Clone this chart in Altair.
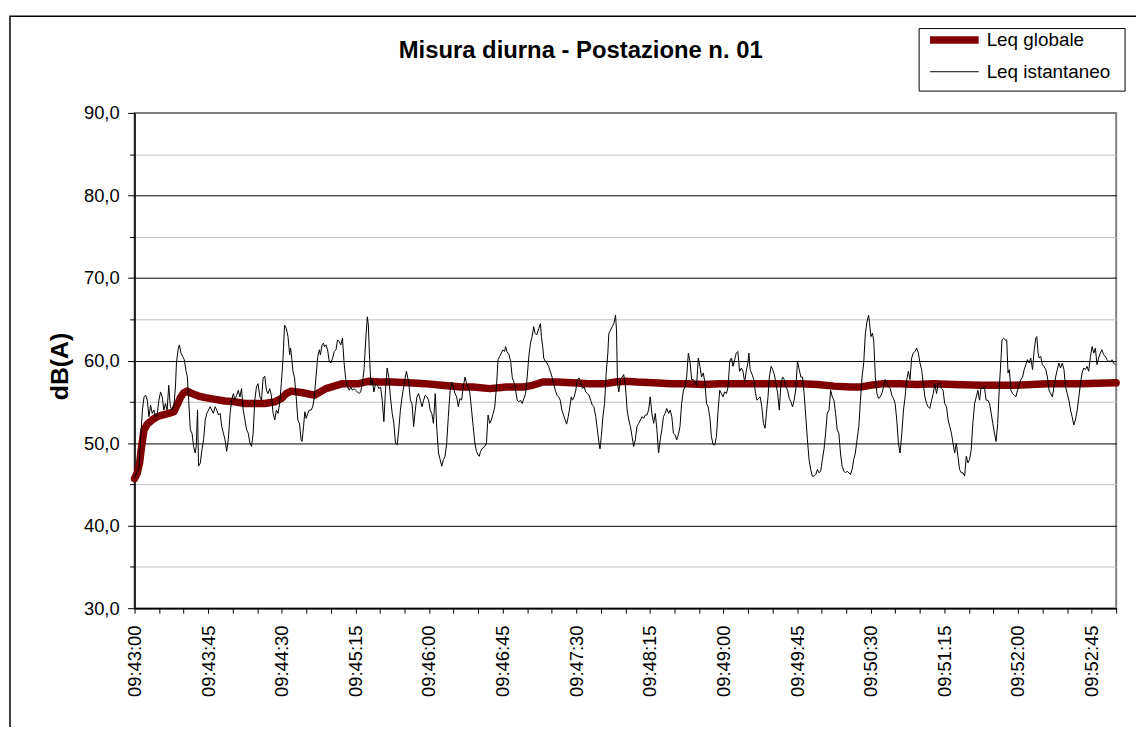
import altair as alt
import pandas as pd

# ---------------- data (seconds after 09:43:00, dB(A)) ----------------
series_names = ["Leq globale", "Leq istantaneo"]
title_text = "Misura diurna - Postazione n. 01"
y_title = "dB(A)"

ist_t = [0.0, 1.7, 2.7, 3.7, 4.8, 5.8, 6.8, 7.8, 8.8, 9.8, 10.8, 11.8, 12.8, 13.9, 14.9, 15.9, 16.9, 17.9, 18.9, 19.9,
         20.9, 21.9, 23.0, 24.0, 25.0, 25.6, 26.6, 27.4, 28.4, 29.4, 30.4, 31.5, 32.3, 33.1, 34.1, 35.1, 36.1, 37.1, 37.7, 38.5,
         39.1, 40.2, 41.2, 42.2, 43.2, 44.2, 45.2, 46.2, 47.2, 48.2, 49.3, 50.3, 51.3, 52.3, 53.3, 54.3, 55.3, 56.3, 57.3, 58.4,
         59.4, 60.4, 61.4, 62.4, 63.4, 64.4, 65.4, 66.4, 67.5, 68.5, 69.5, 70.5, 71.5, 72.5, 73.5, 74.5, 75.5, 76.6, 77.6, 78.6,
         79.6, 80.6, 81.6, 82.6, 83.6, 84.7, 85.7, 86.7, 87.7, 88.7, 89.7, 90.7, 91.7, 92.7, 93.8, 94.8, 95.4, 96.2, 96.8, 97.8,
         98.8, 99.8, 100.8, 101.8, 102.4, 103.3, 104.1, 104.9, 105.9, 106.9, 107.9, 108.9, 109.9, 110.9, 112.0, 113.0, 113.6, 114.6, 115.4, 116.2,
         117.0, 118.0, 119.0, 120.0, 121.1, 122.1, 123.1, 124.1, 125.1, 126.1, 127.1, 128.1, 129.1, 130.2, 131.2, 132.2, 133.2, 134.2, 135.2, 136.2,
         137.2, 138.2, 139.2, 140.3, 141.3, 142.3, 142.9, 143.7, 144.5, 145.3, 146.3, 147.3, 148.4, 149.4, 150.4, 151.4, 152.4, 153.4, 154.4, 155.4,
         156.4, 157.5, 158.5, 159.5, 160.5, 161.5, 162.5, 163.5, 164.5, 165.5, 166.2, 167.0, 167.6, 168.6, 169.6, 170.6, 171.6, 172.6, 173.6, 174.7,
         175.7, 176.7, 177.7, 178.7, 179.7, 180.7, 181.7, 182.7, 183.8, 184.8, 185.8, 186.8, 187.8, 188.8, 189.8, 190.8, 191.8, 192.9, 193.9, 194.9,
         195.9, 196.9, 197.9, 198.9, 199.9, 200.9, 202.0, 203.0, 204.0, 205.0, 206.0, 207.0, 208.0, 209.0, 210.0, 210.7, 211.5, 212.7, 214.1, 215.1,
         216.1, 217.1, 218.1, 219.2, 220.2, 221.2, 222.2, 223.2, 224.2, 225.2, 226.2, 226.8, 227.6, 228.9, 229.9, 230.9, 231.9, 232.9, 233.9, 234.9,
         235.9, 236.9, 238.0, 239.0, 240.0, 241.0, 242.0, 243.0, 244.0, 244.8, 245.8, 247.1, 248.1, 248.7, 249.5, 250.1, 251.1, 252.1, 253.1, 254.1,
         255.2, 256.2, 257.2, 258.2, 259.2, 260.2, 261.2, 262.2, 263.2, 264.1, 265.1, 266.1, 266.9, 267.7, 268.7, 269.7, 270.7, 271.7, 272.8, 273.8,
         274.8, 275.8, 276.8, 277.8, 278.8, 279.8, 280.8, 281.9, 282.9, 283.9, 284.5, 285.3, 286.3, 287.3, 288.3, 289.3, 289.9, 291.0, 292.0, 293.0,
         294.0, 294.6, 295.2, 296.0, 297.0, 298.0, 299.0, 300.1, 301.1, 302.1, 303.1, 304.1, 305.1, 306.1, 307.1, 308.2, 309.2, 310.2, 311.2, 312.2,
         313.2, 314.2, 315.2, 316.2, 317.3, 318.3, 319.3, 320.3, 321.3, 322.3, 323.3, 324.3, 325.3, 326.4, 327.4, 328.4, 329.4, 330.4, 331.4, 332.4,
         333.4, 334.4, 335.5, 336.5, 337.5, 338.5, 339.5, 340.5, 341.5, 342.5, 343.5, 344.6, 345.6, 346.6, 347.6, 348.6, 349.6, 350.6, 351.6, 352.6,
         353.7, 354.7, 355.7, 356.7, 357.7, 358.7, 359.7, 360.7, 361.8, 362.8, 363.8, 364.8, 365.8, 366.8, 367.8, 368.8, 369.8, 370.9, 371.9, 372.9,
         373.9, 374.9, 375.5, 376.3, 377.5, 378.5, 379.6, 380.4, 381.4, 382.4, 383.4, 384.4, 385.4, 386.2, 387.2, 388.0, 389.1, 390.1, 391.1, 392.1,
         393.1, 394.1, 395.1, 396.1, 397.2, 398.2, 399.2, 400.2, 401.2, 402.2, 403.2, 404.2, 405.2, 406.3, 407.3, 408.3, 409.3, 410.3, 411.3, 412.3,
         413.3, 414.3, 415.4, 416.4, 417.4, 418.4, 419.4, 420.4, 421.4, 422.4, 423.4, 424.5, 425.5, 426.5, 427.5, 428.5, 429.5, 430.5, 431.5, 432.5,
         433.6, 434.6, 435.6, 436.6, 437.6, 438.6, 439.6, 440.6, 441.6, 442.7, 443.7, 444.7, 445.7, 446.7, 447.7, 448.7, 449.3, 450.1, 451.0, 451.8,
         452.8, 453.8, 454.8, 455.8, 456.8, 457.8, 458.8, 459.9, 460.9, 461.9, 462.9, 463.9, 464.9, 465.9, 466.9, 467.9, 469.0, 470.0, 471.0, 472.0,
         473.0, 474.0, 475.0, 476.0, 477.0, 478.1, 479.1, 480.1, 481.1, 482.1, 483.1, 484.1, 485.1, 486.1, 487.2, 488.2, 489.2, 490.2, 491.2, 492.2,
         493.2, 494.2, 495.2, 496.3, 497.3, 498.3, 499.3, 500.3, 501.3, 502.3, 503.3, 504.3, 505.4, 506.4, 507.4, 508.4, 509.4, 510.4, 511.4, 512.4,
         513.5, 514.5, 515.5, 516.5, 517.5, 518.5, 519.5, 520.5, 521.5, 522.6, 523.6, 524.6, 525.6, 526.6, 527.6, 528.6, 529.6, 530.2, 531.2, 532.3,
         533.1, 533.9, 534.7, 535.7, 536.7, 537.7, 538.7, 539.7, 540.8, 541.8, 542.8, 543.8, 544.8, 545.8, 546.8, 547.8, 548.9, 549.9, 550.9, 551.5,
         552.3, 552.9, 553.9, 554.9, 555.9, 557.0, 558.0, 559.0, 560.0, 561.0, 562.0, 563.0, 564.0, 565.0, 566.0, 567.1, 568.1, 569.1, 570.1, 571.1,
         572.1, 573.1, 574.1, 575.1, 576.2, 577.2, 578.2, 579.2, 580.2, 581.2, 582.2, 583.2, 584.3, 585.3, 586.3, 587.3, 588.3, 589.3, 590.3, 591.3,
         592.3, 593.4, 594.4, 595.4, 596.4, 597.4, 598.4, 599.4]

ist_v = [45.8, 46.6, 47.0, 50.4, 54.0, 55.6, 55.8, 55.2, 53.2, 54.6, 53.6, 54.0, 53.2, 53.6, 55.2, 56.2, 55.6, 54.0, 54.8, 54.0,
         57.0, 54.4, 54.0, 54.4, 56.8, 59.7, 61.3, 61.9, 60.9, 60.5, 60.1, 58.7, 58.0, 55.2, 51.6, 51.2, 49.6, 48.8, 49.6, 54.0,
         47.2, 47.6, 49.2, 50.4, 52.8, 53.6, 54.0, 54.4, 54.0, 53.6, 54.4, 54.0, 53.4, 53.6, 52.0, 51.2, 50.4, 49.0, 50.4, 53.6,
         55.2, 56.0, 55.2, 55.8, 56.4, 55.6, 56.6, 54.0, 52.8, 51.6, 51.2, 50.0, 49.6, 51.2, 55.2, 56.8, 57.2, 55.6, 55.2, 57.9,
         58.1, 56.4, 56.0, 56.6, 55.8, 53.6, 52.8, 54.0, 53.6, 54.8, 57.2, 60.1, 64.3, 63.9, 62.9, 60.7, 61.5, 60.1, 58.7, 57.9,
         55.6, 52.8, 52.4, 50.4, 50.2, 52.0, 53.8, 53.0, 53.6, 54.0, 54.0, 54.4, 55.6, 58.0, 60.5, 61.3, 60.7, 61.9, 62.1, 61.7,
         61.9, 61.3, 59.9, 59.7, 60.3, 61.1, 61.3, 62.5, 62.3, 61.9, 62.7, 59.7, 57.7, 56.8, 56.4, 56.8, 56.4, 56.6, 56.4, 56.2,
         56.0, 56.2, 57.2, 58.9, 62.5, 65.3, 64.3, 60.1, 57.0, 57.7, 56.2, 57.2, 57.0, 56.6, 56.8, 55.2, 52.6, 56.4, 59.1, 58.0,
         55.6, 53.6, 52.4, 50.0, 49.8, 51.6, 54.0, 55.6, 56.8, 58.0, 58.7, 57.9, 57.4, 55.2, 54.8, 52.0, 54.0, 55.6, 56.0, 55.2,
         54.4, 55.2, 55.8, 55.6, 55.2, 54.0, 53.6, 52.4, 56.0, 51.6, 48.8, 48.0, 47.2, 48.0, 48.4, 50.0, 53.2, 56.4, 57.4, 56.8,
         56.0, 55.6, 54.4, 55.4, 55.2, 56.8, 58.0, 57.2, 56.8, 56.0, 54.0, 52.0, 50.0, 49.0, 48.6, 48.4, 49.0, 49.4, 49.6, 50.0,
         53.4, 52.4, 52.8, 53.6, 54.4, 56.8, 60.1, 60.5, 60.9, 61.3, 61.1, 61.7, 61.1, 60.7, 59.9, 57.9, 57.4, 56.4, 55.2, 55.0,
         55.2, 54.8, 55.4, 56.0, 58.0, 60.5, 62.1, 62.9, 64.1, 63.3, 63.1, 63.9, 64.5, 62.9, 61.7, 60.3, 59.9, 59.7, 59.3, 58.7,
         58.0, 57.2, 56.4, 55.8, 55.6, 55.2, 54.0, 53.4, 52.8, 52.3, 53.2, 54.4, 55.6, 55.2, 55.6, 56.4, 57.7, 57.9, 57.2, 56.6,
         56.8, 56.2, 56.0, 55.8, 55.2, 54.6, 54.4, 53.2, 51.6, 50.0, 49.3, 50.8, 53.2, 54.8, 58.5, 60.9, 63.3, 63.7, 64.1, 64.5,
         65.5, 63.7, 57.2, 56.2, 57.7, 58.0, 58.3, 56.8, 54.0, 52.8, 52.0, 50.8, 49.6, 50.4, 52.0, 52.4, 52.8, 53.2, 53.0, 53.4,
         53.4, 54.0, 55.6, 53.6, 52.4, 53.6, 51.6, 48.8, 50.4, 51.6, 53.2, 53.6, 54.2, 53.6, 54.0, 53.2, 51.2, 51.0, 50.4, 51.0,
         52.0, 54.8, 56.4, 56.8, 58.0, 60.9, 59.9, 57.7, 57.7, 57.4, 57.0, 60.3, 59.3, 58.0, 58.5, 57.4, 54.8, 54.4, 53.2, 50.8,
         49.8, 49.8, 50.8, 54.0, 56.4, 56.0, 55.6, 56.2, 56.0, 56.8, 59.9, 60.3, 59.3, 60.1, 60.9, 61.1, 58.7, 59.1, 58.7, 57.4,
         58.7, 59.7, 60.9, 58.9, 58.3, 57.7, 56.0, 55.2, 55.4, 55.6, 54.4, 52.4, 51.8, 53.6, 55.6, 58.0, 59.3, 58.9, 58.3, 57.2,
         56.0, 54.0, 57.2, 58.0, 57.7, 56.8, 56.4, 55.4, 55.0, 54.4, 55.2, 56.6, 59.9, 58.9, 58.0, 58.0, 56.0, 53.2, 50.4, 48.0,
         46.8, 46.0, 46.0, 46.2, 46.8, 46.4, 46.6, 48.0, 49.2, 51.2, 53.6, 54.0, 56.4, 55.6, 55.2, 53.6, 51.6, 51.2, 48.8, 47.2,
         46.6, 46.4, 46.6, 46.4, 46.2, 46.8, 48.0, 48.8, 50.4, 52.0, 55.2, 58.0, 59.7, 63.3, 64.7, 65.5, 64.5, 62.9, 63.3, 62.5,
         58.0, 56.0, 55.4, 55.6, 56.0, 56.8, 57.7, 57.2, 56.8, 56.6, 55.8, 55.4, 54.8, 52.8, 50.0, 48.8, 51.2, 54.0, 55.6, 57.7,
         58.7, 57.7, 60.3, 60.9, 61.1, 61.5, 60.9, 59.7, 58.9, 57.2, 55.6, 54.8, 54.4, 54.2, 55.2, 56.0, 57.2, 56.0, 57.2, 57.2,
         56.6, 56.4, 54.8, 54.4, 52.8, 52.0, 51.2, 50.0, 48.8, 50.0, 48.4, 46.8, 46.4, 46.4, 46.0, 48.4, 47.6, 48.0, 49.2, 52.4,
         54.8, 55.6, 56.4, 55.2, 56.8, 56.6, 56.8, 55.2, 55.2, 54.8, 53.6, 52.4, 51.2, 50.2, 52.4, 56.8, 60.1, 62.5, 62.7, 62.5,
         62.5, 58.5, 58.9, 56.4, 56.0, 55.8, 55.6, 56.4, 57.2, 57.7, 58.0, 58.9, 59.5, 60.1, 59.7, 60.3, 58.9, 61.3, 62.7, 62.9,
         60.9, 60.3, 60.5, 59.5, 59.3, 58.9, 58.0, 56.4, 56.0, 55.6, 56.8, 58.0, 58.9, 59.7, 59.1, 59.7, 58.9, 56.8, 56.0, 55.2,
         54.0, 53.2, 52.2, 52.8, 54.0, 55.6, 57.2, 58.5, 59.1, 58.9, 59.3, 58.7, 60.5, 61.7, 60.9, 61.5, 59.5, 60.3, 60.9, 61.3,
         60.7, 60.5, 60.1, 59.9, 59.9, 60.1, 59.7, 59.5]

glob_t = [0.0, 1.7, 3.1, 4.3, 5.8, 7.8, 10.8, 13.9, 16.9, 20.9, 24.0, 26.0, 28.0, 30.0, 32.1, 35.1, 39.1, 43.2, 49.3, 55.3,
          61.4, 67.5, 73.5, 79.6, 85.7, 89.7, 92.7, 95.8, 102.8, 109.9, 117.0, 127.1, 137.2, 143.3, 149.4, 157.5, 167.6, 177.7, 187.8, 199.9,
          207.0, 217.1, 227.2, 237.4, 243.4, 249.5, 257.6, 267.7, 277.8, 287.9, 294.0, 300.1, 307.1, 317.3, 327.4, 337.5, 347.6, 357.7, 367.8, 377.9,
          388.0, 400.2, 407.3, 417.4, 427.5, 437.6, 443.7, 449.7, 457.8, 467.9, 478.1, 488.2, 500.3, 517.5, 537.7, 558.0, 578.2, 600.0]
glob_v = [45.7, 46.4, 47.6, 49.6, 51.6, 52.3, 52.8, 53.2, 53.4, 53.6, 53.8, 54.6, 55.5, 56.1, 56.3, 56.0, 55.7, 55.5, 55.3, 55.1,
          55.0, 54.8, 54.8, 54.8, 55.0, 55.4, 56.0, 56.3, 56.1, 55.8, 56.6, 57.2, 57.2, 57.5, 57.4, 57.4, 57.3, 57.2, 57.0, 56.8,
          56.8, 56.6, 56.8, 56.8, 57.0, 57.4, 57.4, 57.3, 57.2, 57.2, 57.4, 57.5, 57.4, 57.3, 57.2, 57.2, 57.1, 57.2, 57.2, 57.2,
          57.2, 57.2, 57.2, 57.1, 56.9, 56.8, 56.8, 57.0, 57.2, 57.2, 57.1, 57.2, 57.1, 57.0, 57.0, 57.2, 57.2, 57.3]

x_ticks = list(range(0, 601, 15))
y_ticks = list(range(30, 91, 5))

df = pd.concat([
    pd.DataFrame({"t": glob_t, "v": glob_v, "serie": series_names[0]}),
    pd.DataFrame({"t": ist_t, "v": ist_v, "serie": series_names[1]}),
], ignore_index=True)

FONT = "Liberation Sans"


def make_legend():
    return alt.Legend(
        title=None, orient="none", legendX=795.5, legendY=-85,
        symbolType="stroke", symbolSize=2401, labelFontSize=19, labelFont=FONT,
        labelColor="black", labelOffset=4, padding=2, rowPadding=12, clipHeight=19,
    )


x_enc = alt.X(
    "t:Q",
    scale=alt.Scale(domain=[0, 600], nice=False, zero=False),
    axis=alt.Axis(
        values=x_ticks,
        labelExpr="datum.value % 45 == 0 ? utcFormat(utc(2000,0,1,9,43,datum.value), '%H:%M:%S') : ''",
        labelAngle=270, labelAlign="right", labelBaseline="middle",
        labelFontSize=18.5, labelFont=FONT, labelColor="black", labelPadding=12,
        labelOverlap=False, labelFlush=False,
        tickSize=5, tickColor="black", domainColor="black", domainWidth=1.5,
        grid=False, title=None,
    ),
)

y_enc = alt.Y(
    "v:Q",
    scale=alt.Scale(domain=[30, 90], nice=False, zero=False),
    axis=alt.Axis(
        values=y_ticks,
        labelExpr="datum.value % 10 == 0 ? replace(format(datum.value, '.1f'), '.', ',') : ''",
        labelFontSize=18.5, labelFont=FONT, labelColor="black", labelPadding=8.5,
        labelOverlap=False, labelFlush=False,
        tickSize=alt.condition("datum.value % 10 == 0", alt.value(7), alt.value(5)),
        tickColor="black", domainColor="black", domainWidth=1.5,
        grid=True,
        gridColor=alt.condition("datum.value % 10 == 0", alt.value("#000000"), alt.value("#c0c0c0")),
        gridOpacity=alt.condition("datum.value == 90", alt.value(0), alt.value(1)),
        title=y_title, titleFontSize=25, titleFontWeight="bold", titleFont=FONT,
        titleColor="black", titleAngle=270, titleX=-75.5, titleY=255,
        titleAlign="center", titleBaseline="middle",
    ),
)

color_enc = alt.Color("serie:N", scale=alt.Scale(domain=series_names, range=["#800000", "#000000"]),
                      legend=make_legend())
width_enc = alt.StrokeWidth("serie:N", scale=alt.Scale(domain=series_names, range=[7.5, 1]),
                            legend=make_legend())

base = alt.Chart(df).encode(x=x_enc, y=y_enc, color=color_enc, strokeWidth=width_enc)

red = base.transform_filter(alt.datum.serie == series_names[0]).mark_line(strokeJoin="round", strokeCap="round")
black = base.transform_filter(alt.datum.serie == series_names[1]).mark_line(strokeJoin="round")

title = alt.Chart(pd.DataFrame({"titolo": [title_text]})).mark_text(
    fontSize=24, fontWeight="bold", font=FONT, align="center", baseline="alphabetic", color="black"
).encode(x=alt.value(449.5), y=alt.value(-55.7), text="titolo:N")

# decorative frames: outer chart border and legend box
frame = alt.Chart(pd.DataFrame({"a": [0]})).mark_rect(
    filled=False, stroke="black", strokeWidth=1.5
).encode(x=alt.value(-125.5), y=alt.value(-97.5), x2=alt.value(1040), y2=alt.value(660))

legend_box = alt.Chart(pd.DataFrame({"a": [0]})).mark_rect(
    fill="white", stroke="black", strokeWidth=1
).encode(x=alt.value(790.5), y=alt.value(-85), x2=alt.value(998), y2=alt.value(-22))

chart = alt.layer(frame, title, red, black, legend_box).properties(
    width=989, height=499,
    autosize=alt.AutoSizeParams(type="none"),
    padding={"left": 127.5, "top": 103, "right": 20, "bottom": 117},
).configure_view(stroke="#808080", strokeWidth=2)

chart.save("out.html", embed_options={"renderer": "svg", "actions": False})
